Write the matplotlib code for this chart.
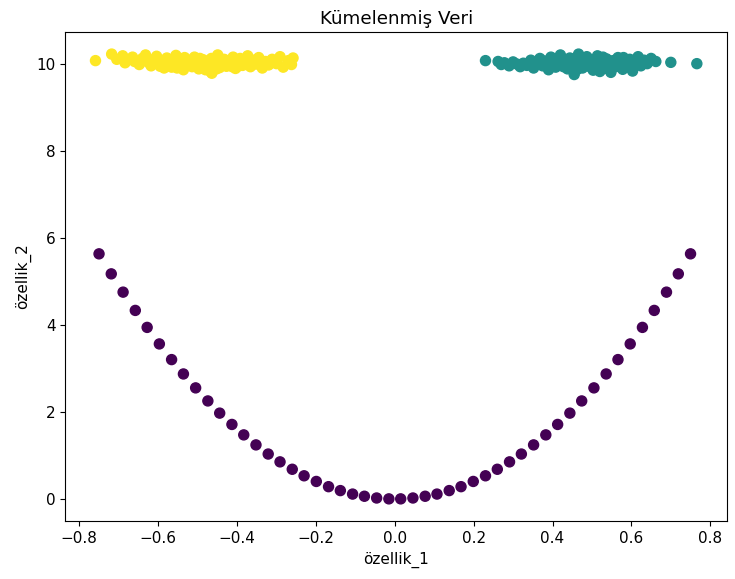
import numpy as np
import matplotlib
matplotlib.use('Agg')
import matplotlib.pyplot as plt

# parabola cluster (label 0)
para_x = [-0.750, -0.719, -0.689, -0.658, -0.628, -0.597, -0.566, -0.536, -0.505, -0.474,
          -0.444, -0.413, -0.383, -0.352, -0.321, -0.291, -0.260, -0.230, -0.199, -0.168,
          -0.138, -0.107, -0.077, -0.046, -0.015,
          0.015, 0.046, 0.077, 0.107, 0.138, 0.168, 0.199, 0.230, 0.260, 0.291,
          0.321, 0.352, 0.383, 0.413, 0.444, 0.474, 0.505, 0.536, 0.566, 0.597,
          0.628, 0.658, 0.689, 0.719, 0.750]
para_y = [5.63, 5.17, 4.75, 4.33, 3.94, 3.56, 3.20, 2.87, 2.55, 2.25,
          1.97, 1.71, 1.47, 1.24, 1.03, 0.85, 0.68, 0.53, 0.40, 0.28,
          0.19, 0.11, 0.06, 0.02, 0.00,
          0.00, 0.02, 0.06, 0.11, 0.19, 0.28, 0.40, 0.53, 0.68, 0.85,
          1.03, 1.24, 1.47, 1.71, 1.97, 2.25, 2.55, 2.87, 3.20, 3.56,
          3.94, 4.33, 4.75, 5.17, 5.63]

# right cluster (label 1)
teal_x = [0.230, 0.262, 0.270, 0.278, 0.290, 0.300, 0.310, 0.318, 0.326, 0.335,
          0.345, 0.352, 0.360, 0.368, 0.375, 0.382, 0.390, 0.396, 0.402, 0.408,
          0.414, 0.420, 0.426, 0.432, 0.438, 0.444, 0.450, 0.455, 0.460, 0.466,
          0.471, 0.476, 0.482, 0.487, 0.492, 0.498, 0.503, 0.508, 0.514, 0.519,
          0.525, 0.531, 0.537, 0.543, 0.548, 0.554, 0.560, 0.566, 0.572, 0.578,
          0.584, 0.590, 0.596, 0.603, 0.610, 0.617, 0.624, 0.632, 0.640, 0.650,
          0.662, 0.700, 0.766,
          0.405, 0.428, 0.447, 0.463, 0.479, 0.495, 0.511, 0.528, 0.545, 0.562,
          0.580, 0.598, 0.385, 0.470, 0.520]
teal_y = [10.07, 10.05, 9.98, 10.02, 9.95, 10.04, 9.99, 9.93, 10.01, 9.96,
          10.08, 9.90, 10.03, 10.12, 9.95, 10.06, 9.86, 10.15, 10.00, 9.92,
          10.09, 10.20, 9.97, 10.04, 9.88, 10.13, 10.01, 9.75, 9.95, 10.22,
          10.06, 9.90, 10.00, 10.16, 9.94, 10.08, 9.85, 10.03, 10.18, 9.97,
          10.05, 9.89, 10.11, 9.99, 9.80, 10.07, 9.93, 10.14, 10.01, 9.87,
          10.06, 9.96, 10.10, 9.83, 10.02, 10.16, 9.95, 10.08, 10.00, 10.12,
          10.05, 10.03, 10.00,
          10.06, 9.93, 10.10, 9.87, 10.12, 10.02, 9.92, 10.15, 10.06, 9.97,
          10.14, 9.91, 9.97, 10.03, 9.82]

# left cluster (label 2)
yel_x = [-0.759, -0.718, -0.705, -0.690, -0.684, -0.665, -0.660, -0.648, -0.640, -0.632,
         -0.625, -0.618, -0.610, -0.604, -0.598, -0.590, -0.585, -0.578, -0.572, -0.566,
         -0.560, -0.555, -0.548, -0.542, -0.536, -0.530, -0.525, -0.519, -0.514, -0.508,
         -0.503, -0.497, -0.492, -0.486, -0.481, -0.476, -0.470, -0.465, -0.464, -0.460,
         -0.455, -0.449, -0.444, -0.438, -0.433, -0.427, -0.421, -0.415, -0.410, -0.404,
         -0.398, -0.392, -0.386, -0.380, -0.373, -0.366, -0.360, -0.352, -0.345, -0.336,
         -0.328, -0.320, -0.311, -0.300, -0.291, -0.283, -0.270, -0.262, -0.258,
         -0.595, -0.575, -0.552, -0.533, -0.512, -0.494, -0.473, -0.452, -0.430, -0.412,
         -0.395, -0.540, -0.480, -0.420]
yel_y = [10.07, 10.22, 10.10, 10.18, 10.02, 10.15, 10.05, 9.98, 10.12, 10.20,
         10.03, 9.95, 10.10, 10.17, 9.99, 10.06, 9.90, 10.13, 10.00, 9.92,
         10.08, 10.19, 9.96, 10.04, 9.86, 10.11, 9.98, 10.02, 9.93, 10.15,
         10.06, 9.88, 10.00, 10.09, 9.95, 10.03, 9.84, 10.12, 9.78, 9.97,
         10.05, 10.20, 9.91, 10.01, 10.10, 9.94, 10.06, 9.99, 10.15, 9.89,
         10.04, 10.12, 9.96, 10.02, 10.18, 9.93, 10.08, 9.99, 10.14, 9.90,
         10.05, 9.97, 10.10, 10.00, 10.16, 9.92, 10.07, 9.98, 10.13,
         9.94, 10.05, 9.90, 10.14, 9.97, 10.12, 9.92, 9.88, 10.08, 9.93,
         9.95, 10.00, 9.86, 10.02]

x = np.array(para_x + teal_x + yel_x)
y = np.array(para_y + teal_y + yel_y)
labels = np.array([0] * len(para_x) + [1] * len(teal_x) + [2] * len(yel_x))

plt.rcParams['font.size'] = 11
fig = plt.figure(figsize=(7.35, 5.79), dpi=100)
ax = fig.add_axes([0.089, 0.100, 0.900, 0.845])
ax.scatter(x, y, c=labels, cmap='viridis', s=52)
ax.set_title('Kümelenmiş Veri')
ax.set_xlabel('özellik_1')
ax.set_ylabel('özellik_2')
fig.savefig('out.png', dpi=100)
